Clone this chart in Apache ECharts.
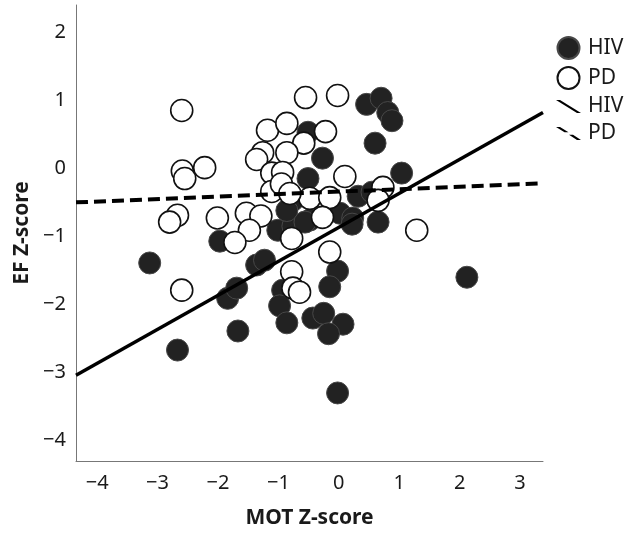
<!DOCTYPE html>
<html>
<head>
<meta charset="utf-8">
<style>html,body{margin:0;padding:0;background:#fff}#c{width:630px;height:535px}</style>
<script src="https://cdn.jsdelivr.net/npm/echarts@6/dist/echarts.min.js"></script>
</head>
<body>
<div id="c"></div>
<script>
// HIV group (filled circles)
const hivX = [-3.13,-2.67,-1.97,-1.84,-1.69,-1.67,-1.36,-1.23,-1.01,-0.76,-0.48,-0.93,-0.98,-0.86,-0.43,-0.25,0.07,-0.17,-0.02,-0.02,-0.15,2.12,-0.51,-0.27,-0.51,-0.76,0.02,0.23,0.22,0.65,0.32,0.55,1.04,0.60,0.46,0.70,0.81,0.88,-0.86,-0.56];
const hivY = [-1.39,-2.67,-1.07,-1.91,-1.76,-2.39,-1.42,-1.35,-0.91,-0.85,-0.76,-1.79,-2.02,-2.27,-2.20,-2.13,-2.29,-2.43,-3.30,-1.51,-1.74,-1.60,0.53,0.15,-0.15,-0.47,-0.66,-0.73,-0.82,-0.79,-0.41,-0.35,-0.07,0.37,0.94,1.03,0.82,0.70,-0.62,-0.79];
// PD group (open circles)
const pdX = [-2.60,-0.55,-0.02,-1.18,-0.86,-0.22,-0.58,-0.86,-1.26,-1.36,-2.22,-2.59,-2.55,-1.11,-0.93,-1.11,-0.95,-0.48,-0.15,0.10,-0.81,0.73,0.65,-2.67,-2.80,-2.01,-1.53,-1.29,-1.48,-1.72,-0.27,-0.78,1.29,-0.15,-2.60,-0.78,-0.76,-0.65];
const pdY = [0.85,1.04,1.07,0.56,0.66,0.54,0.37,0.23,0.23,0.13,0.01,-0.04,-0.15,-0.07,-0.06,-0.34,-0.23,-0.44,-0.43,-0.12,-0.37,-0.28,-0.47,-0.69,-0.79,-0.73,-0.66,-0.70,-0.91,-1.09,-0.72,-1.03,-0.91,-1.23,-1.79,-1.52,-1.76,-1.82];
// Fit lines (endpoints at the axis edges)
const hivFitX = [-4.35, 3.38];
const hivFitY = [-3.04, 0.82];
const pdFitX = [-4.35, 3.38];
const pdFitY = [-0.50, -0.22];
// Tick labels
const xTicks = [-4,-3,-2,-1,0,1,2,3];
const yTicks = [-4,-3,-2,-1,0,1,2];

const zip = (a,b)=>a.map((v,i)=>[v,b[i]]);
const minus = v => String(v).replace('-', '\u2212');
const FONT = 'Noto Sans';

const chart = echarts.init(document.getElementById('c'), null, {renderer:'canvas'});
chart.setOption({
  animation:false,
  backgroundColor:'#fff',
  grid:{left:76,right:87,top:5,bottom:74,containLabel:false,outerBoundsMode:'none'},
  xAxis:{
    type:'value', min:-4.35, max:3.38,
    name:'MOT Z-score', nameLocation:'middle', nameGap:47,
    nameTextStyle:{fontFamily:FONT,fontSize:21,fontWeight:'bold',color:'#1a1a1a'},
    axisLine:{show:true,onZero:false,lineStyle:{color:'#777',width:1}},
    axisTick:{show:false}, splitLine:{show:false},
    axisLabel:{customValues:xTicks,formatter:minus,margin:12,fontFamily:FONT,fontSize:20,color:'#1a1a1a'}
  },
  yAxis:{
    type:'value', min:-4.3, max:2.4,
    name:'EF Z-score', nameLocation:'middle', nameGap:42,
    nameTextStyle:{fontFamily:FONT,fontSize:21,fontWeight:'bold',color:'#1a1a1a'},
    axisLine:{show:true,onZero:false,lineStyle:{color:'#777',width:1}},
    axisTick:{show:false}, splitLine:{show:false},
    axisLabel:{customValues:yTicks,formatter:minus,margin:10,fontFamily:FONT,fontSize:20,color:'#1a1a1a'}
  },
  legend:{
    orient:'vertical', left:556, top:36, padding:0, itemGap:6,
    itemWidth:25, itemHeight:22,
    textStyle:{fontFamily:FONT,fontSize:21,color:'#1a1a1a',padding:[0,0,0,2]},
    formatter: n => n.replace(' fit',''),
    data:[
      {name:'HIV',icon:'circle'},
      {name:'PD',icon:'circle'},
      {name:'HIV fit',icon:'path://M0,0L4,0L25,13.2L21,13.2Z'},
      {name:'PD fit',icon:'path://M0,0L4,0L12.5,5.4L8.5,5.4Z M13,7.8L17,7.8L25,13.2L21,13.2Z'}
    ]
  },
  series:[
    {name:'HIV',type:'scatter',symbol:'circle',symbolSize:22,data:zip(hivX,hivY),
     itemStyle:{color:'#222',borderColor:'#484848',borderWidth:1,opacity:1}},
    {name:'PD',type:'scatter',symbol:'circle',symbolSize:22,data:zip(pdX,pdY),
     itemStyle:{color:'#fff',borderColor:'#111',borderWidth:1.6,opacity:1}},
    {name:'HIV fit',type:'line',data:zip(hivFitX,hivFitY),symbol:'none',color:'#000',
     lineStyle:{color:'#000',width:3.5,type:'solid'},itemStyle:{color:'#000'},z:5},
    {name:'PD fit',type:'line',data:zip(pdFitX,pdFitY),symbol:'none',color:'#000',
     lineStyle:{color:'#000',width:4,type:[12,6]},itemStyle:{color:'#000'},z:5}
  ]
});
</script>
</body>
</html>
